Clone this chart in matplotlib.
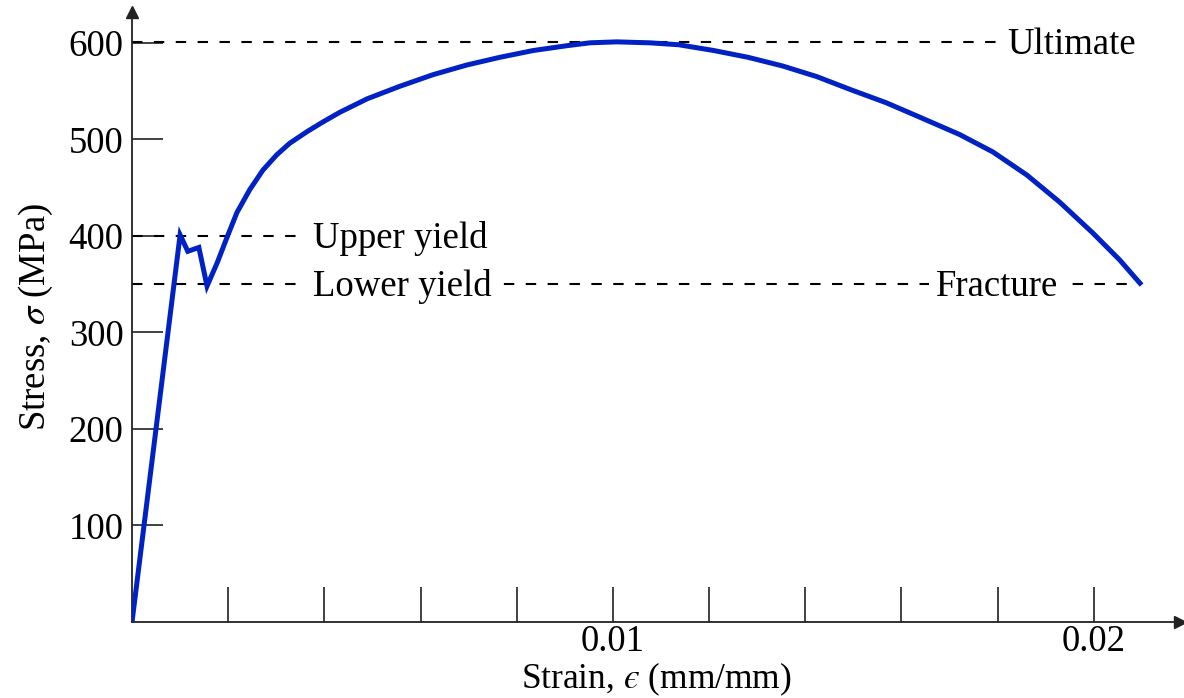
import numpy as np
import matplotlib
matplotlib.use('Agg')
import matplotlib.pyplot as plt

plt.rcParams['font.family'] = ['Liberation Serif', 'DejaVu Serif']
plt.rcParams['mathtext.fontset'] = 'stix'

# stress-strain curve
strain = [0.0, 0.00100, 0.00116, 0.00139, 0.00156, 0.00177, 0.00198, 0.00218,
          0.00245, 0.00272, 0.00301, 0.00328, 0.00364, 0.00397, 0.00432,
          0.00489, 0.00557, 0.00626, 0.00696, 0.00765, 0.00834, 0.00904,
          0.00952, 0.01008, 0.01077, 0.01137, 0.01210, 0.01281, 0.01353,
          0.01424, 0.01497, 0.01568, 0.01638, 0.01721, 0.01790, 0.01861,
          0.01929, 0.01998, 0.02054, 0.02096]
stress = [0, 401, 384, 388, 348, 372, 399, 424,
          448, 468, 484, 496, 508, 518, 528,
          542, 555, 567, 577, 585, 592, 597,
          600, 601, 600, 598, 592, 585, 576,
          565, 551, 538, 523, 505, 487, 463,
          435, 403, 375, 351]

ultimate = 601
upper_yield = 400
lower_yield = 350
fracture_strain = 0.0209

xtick_vals = [0.002, 0.004, 0.006, 0.008, 0.01, 0.012, 0.014, 0.016, 0.018, 0.02]
xtick_labels = ['', '', '', '', '0.01', '', '', '', '', '0.02']
ytick_vals = [100, 200, 300, 400, 500, 600]

fs = 26.5

fig = plt.figure(figsize=(11.84, 6.98), dpi=100)
ax = fig.add_axes([0.1115, 0.1089, 0.885, 0.874])

# dashed reference lines
dash = dict(color='black', lw=1.5, dashes=(5, 5.5))
ax.plot([0, 0.0181], [ultimate, ultimate], **dash)
ax.plot([0, 0.0035], [upper_yield, upper_yield], **dash)
ax.plot([0, fracture_strain], [lower_yield, lower_yield], **dash)

off = 12.5  # half the cap height, in MPa
txt = dict(fontsize=fs, va='baseline', ha='left')
box = dict(facecolor='white', edgecolor='none', pad=5)
ax.text(0.01821, ultimate - off, 'Ultimate', bbox=box, **txt)
ax.text(0.00376, upper_yield - off, 'Upper yield', bbox=box, **txt)
ax.text(0.00376, lower_yield - off, 'Lower yield', bbox=box, **txt)
ax.text(0.01672, lower_yield - off, 'Fracture', bbox=box, **txt)

ax.plot(strain, stress, color='#0022c4', lw=3.6, solid_joinstyle='miter', zorder=5)

ax.set_xlim(0, 0.02179)
ax.set_ylim(0, 632)
ax.set_xticks(xtick_vals)
ax.set_xticklabels(xtick_labels)
ax.set_yticks(ytick_vals)
ax.tick_params(axis='both', direction='in', labelsize=fs, color='#333333', width=1.3)
ax.tick_params(axis='x', length=25, pad=2)
ax.tick_params(axis='y', length=22, pad=6)

for s in ['top', 'right']:
    ax.spines[s].set_visible(False)
for s in ['left', 'bottom']:
    ax.spines[s].set_linewidth(1.3)
    ax.spines[s].set_color('#222222')

ax.plot(1, 0, '>', color='#222222', ms=8, transform=ax.transAxes, clip_on=False)
ax.plot(0, 1, '^', color='#222222', ms=8, transform=ax.transAxes, clip_on=False)

fig.text(0.554, 0.0, 'Strain, $\u03f5$ (mm/mm)', fontsize=25.5, ha='center', va='bottom')
ax.set_ylabel(r'Stress, $\sigma$ (MPa)', fontsize=fs, labelpad=10)

fig.savefig('out.png', dpi=100)
